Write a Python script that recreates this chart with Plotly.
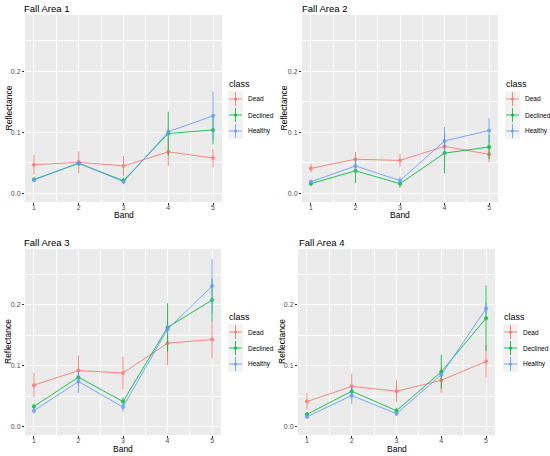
import plotly.graph_objs as go

bands = [1, 2, 3, 4, 5]
classes = ["Dead", "Declined", "Healthy"]
titles = ["Fall Area 1", "Fall Area 2", "Fall Area 3", "Fall Area 4"]

# mean reflectance and error half-width per class, per area
area1_dead = [0.047, 0.051, 0.045, 0.068, 0.058]
area1_dead_err = [0.016, 0.018, 0.016, 0.023, 0.015]
area1_declined = [0.023, 0.049, 0.021, 0.098, 0.104]
area1_declined_err = [0.004, 0.004, 0.005, 0.036, 0.024]
area1_healthy = [0.022, 0.050, 0.019, 0.101, 0.127]
area1_healthy_err = [0.003, 0.004, 0.004, 0.008, 0.040]

area2_dead = [0.041, 0.056, 0.054, 0.077, 0.064]
area2_dead_err = [0.007, 0.012, 0.011, 0.010, 0.013]
area2_declined = [0.016, 0.037, 0.016, 0.066, 0.076]
area2_declined_err = [0.004, 0.020, 0.007, 0.033, 0.020]
area2_healthy = [0.019, 0.045, 0.021, 0.086, 0.103]
area2_healthy_err = [0.004, 0.010, 0.006, 0.023, 0.020]

area3_dead = [0.068, 0.092, 0.088, 0.137, 0.143]
area3_dead_err = [0.020, 0.025, 0.027, 0.036, 0.031]
area3_declined = [0.033, 0.081, 0.041, 0.163, 0.208]
area3_declined_err = [0.005, 0.006, 0.007, 0.040, 0.035]
area3_healthy = [0.026, 0.074, 0.032, 0.160, 0.231]
area3_healthy_err = [0.005, 0.019, 0.008, 0.010, 0.044]

area4_dead = [0.041, 0.066, 0.058, 0.076, 0.107]
area4_dead_err = [0.014, 0.021, 0.018, 0.021, 0.027]
area4_declined = [0.020, 0.058, 0.026, 0.090, 0.178]
area4_declined_err = [0.004, 0.006, 0.005, 0.028, 0.054]
area4_healthy = [0.016, 0.051, 0.021, 0.085, 0.194]
area4_healthy_err = [0.004, 0.014, 0.004, 0.004, 0.010]

areas = [
    [(area1_dead, area1_dead_err), (area1_declined, area1_declined_err), (area1_healthy, area1_healthy_err)],
    [(area2_dead, area2_dead_err), (area2_declined, area2_declined_err), (area2_healthy, area2_healthy_err)],
    [(area3_dead, area3_dead_err), (area3_declined, area3_declined_err), (area3_healthy, area3_healthy_err)],
    [(area4_dead, area4_dead_err), (area4_declined, area4_declined_err), (area4_healthy, area4_healthy_err)],
]

colors = ["#F8766D", "#00BA38", "#619CFF"]

W, H = 550, 456
# panel boxes in pixels: left, right, top, bottom
panels = [(25, 222, 15, 202), (302, 498, 15, 202),
          (25, 221, 249, 435), (298, 495, 249, 435)]
# legend: key left x, "class" title y
legend_pos = [(228, 84), (505, 84), (228, 317), (503, 317)]
title_pos = [(22, 8), (300, 8), (22, 242), (297, 242)]
ytitle_x = [8, 283, 8, 282]
xtitle_y = [215, 215, 449, 449]


def px(x):
    return x / W


def py(y):
    return 1 - y / H


fig = go.Figure()
layout = dict(
    width=W, height=H,
    margin=dict(l=0, r=0, t=0, b=0),
    paper_bgcolor="white",
    plot_bgcolor="#EBEBEB",
    font=dict(family="Liberation Sans, Arial", color="#4D4D4D"),
    showlegend=False,
    annotations=[],
    shapes=[],
)
ann = layout["annotations"]
shp = layout["shapes"]

for k, area in enumerate(areas):
    ax = "" if k == 0 else str(k + 1)
    for c, (vals, errs) in enumerate(area):
        fig.add_trace(go.Scatter(
            x=bands, y=vals,
            mode="lines+markers",
            name=classes[c],
            line=dict(color=colors[c], width=1),
            marker=dict(color=colors[c], size=4),
            opacity=0.85,
            error_y=dict(type="data", array=errs, color=colors[c],
                         thickness=1, width=0),
            xaxis="x" + ax, yaxis="y" + ax,
        ))

    l, r, t, b = panels[k]
    layout["xaxis" + ax] = dict(
        domain=[px(l), px(r)], anchor="y" + ax,
        range=[0.8, 5.2], tick0=1, dtick=1,
        showgrid=True, gridcolor="white", gridwidth=1,
        minor=dict(showgrid=True, gridcolor="white", gridwidth=0.5, dtick=0.5, tick0=0.5),
        zeroline=False, ticks="outside", ticklen=2, tickcolor="#333333",
        tickfont=dict(size=7, color="#4D4D4D"), ticklabelstandoff=-3,
        automargin=False,
    )
    layout["yaxis" + ax] = dict(
        domain=[py(b), py(t)], anchor="x" + ax,
        range=[-0.014, 0.292], tick0=0, dtick=0.1, tickformat=".1f",
        showgrid=True, gridcolor="white", gridwidth=1,
        minor=dict(showgrid=True, gridcolor="white", gridwidth=0.5, dtick=0.05, tick0=0),
        zeroline=False, ticks="outside", ticklen=2, tickcolor="#333333",
        tickfont=dict(size=7, color="#4D4D4D"),
        automargin=False,
    )

    # panel title and axis titles
    tx, ty = title_pos[k]
    ann.append(dict(text=titles[k], x=px(tx), y=py(ty), xref="paper", yref="paper",
                    xanchor="left", yanchor="middle", showarrow=False,
                    font=dict(size=9.5, color="black")))
    ann.append(dict(text="Reflectance", x=px(ytitle_x[k]), y=py((t + b) / 2),
                    xref="paper", yref="paper", textangle=-90,
                    xanchor="center", yanchor="middle", showarrow=False,
                    font=dict(size=8.5, color="black")))
    ann.append(dict(text="Band", x=px((l + r) / 2), y=py(xtitle_y[k]),
                    xref="paper", yref="paper",
                    xanchor="center", yanchor="middle", showarrow=False,
                    font=dict(size=8.5, color="black")))

    # ggplot-style legend with grey key boxes
    kx, ky = legend_pos[k]
    ann.append(dict(text="class", x=px(kx - 1), y=py(ky), xref="paper", yref="paper",
                    xanchor="left", yanchor="middle", showarrow=False,
                    font=dict(size=9, color="black")))
    for c in range(3):
        y0 = ky + 7 + 16 * c
        y1 = y0 + 16
        yc = (y0 + y1) / 2
        shp.append(dict(type="rect", xref="paper", yref="paper",
                        x0=px(kx), x1=px(kx + 15), y0=py(y1), y1=py(y0),
                        fillcolor="#F2F2F2", line=dict(width=0), layer="below"))
        shp.append(dict(type="line", xref="paper", yref="paper",
                        x0=px(kx + 1), x1=px(kx + 14), y0=py(yc), y1=py(yc),
                        line=dict(color=colors[c], width=1), opacity=0.85))
        shp.append(dict(type="line", xref="paper", yref="paper",
                        x0=px(kx + 7.5), x1=px(kx + 7.5), y0=py(y1 - 1), y1=py(y0 + 1),
                        line=dict(color=colors[c], width=1), opacity=0.85))
        shp.append(dict(type="circle", xref="paper", yref="paper",
                        x0=px(kx + 6), x1=px(kx + 9), y0=py(yc + 1.5), y1=py(yc - 1.5),
                        fillcolor=colors[c], line=dict(width=0)))
        ann.append(dict(text=classes[c], x=px(kx + 18), y=py(yc), xref="paper", yref="paper",
                        xanchor="left", yanchor="middle", showarrow=False,
                        font=dict(size=6.5, color="black")))

fig.update_layout(**layout)
fig.write_html("out.html", config={"displayModeBar": False},
               post_script="document.body.style.margin='0';")
